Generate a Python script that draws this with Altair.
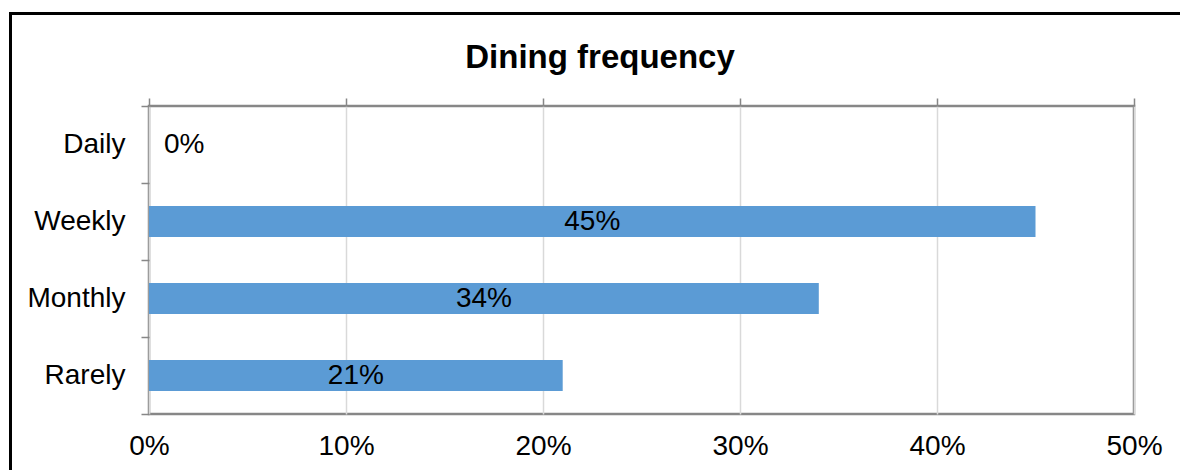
import altair as alt
import pandas as pd

categories = ["Daily", "Weekly", "Monthly", "Rarely"]
values = [0.0, 0.45, 0.34, 0.21]

df = pd.DataFrame({"cat": categories, "value": values})

FONT = "Liberation Sans"
GRAY = "#878787"
FS = 28

yenc = alt.Y(
    "cat:N",
    sort=categories,
    scale=alt.Scale(paddingInner=0, paddingOuter=0),
    axis=alt.Axis(
        title=None,
        domain=False,
        ticks=True,
        tickBand="extent",
        tickSize=8,
        tickColor=GRAY,
        tickWidth=1.5,
        labelFontSize=FS,
        labelColor="black",
        labelFont=FONT,
        labelPadding=16,
        grid=False,
    ),
)

xscale = alt.Scale(domain=[0, 0.5], nice=False, zero=True)

border = alt.Chart(pd.DataFrame({"k": [0]})).mark_rect(
    fillOpacity=0, stroke="black", strokeWidth=3
).encode(
    x=alt.value(-138.5), x2=alt.value(1100), y=alt.value(-92.5), y2=alt.value(420)
)

bars = alt.Chart(df).mark_bar(color="#5b9bd5", height=alt.RelativeBandSize(0.4)).encode(
    x=alt.X(
        "value:Q",
        scale=xscale,
        axis=alt.Axis(
            orient="bottom",
            title=None,
            format=".0%",
            values=[0, 0.1, 0.2, 0.3, 0.4, 0.5],
            domain=False,
            ticks=False,
            labelFontSize=FS,
            labelFont=FONT,
            labelColor="black",
            labelPadding=18,
            labelFlush=False,
            grid=True,
            gridColor="#d9d9d9",
            gridWidth=1.5,
        ),
    ),
    y=yenc,
)

labels = alt.Chart(df).transform_filter("datum.value > 0").transform_calculate(
    pos="datum.value / 2"
).mark_text(fontSize=FS, font=FONT, color="black", align="center", baseline="middle").encode(
    x=alt.X(
        "pos:Q",
        scale=xscale,
        axis=alt.Axis(
            orient="top",
            title=None,
            values=[0, 0.1, 0.2, 0.3, 0.4, 0.5],
            labels=False,
            domain=False,
            ticks=True,
            tickSize=8,
            tickColor=GRAY,
            tickWidth=1.5,
            grid=False,
        ),
    ),
    y=yenc,
    text=alt.Text("value:Q", format=".0%"),
)

zero_labels = alt.Chart(df).transform_filter("datum.value == 0").mark_text(
    fontSize=FS, font=FONT, color="black", align="left", baseline="middle", dx=15
).encode(
    x=alt.X("value:Q", scale=xscale, axis=None),
    y=yenc,
    text=alt.Text("value:Q", format=".0%"),
)

chart = alt.layer(border, bars, labels, zero_labels).resolve_axis(
    x="independent"
).properties(
    width=985,
    height=308,
    autosize=alt.AutoSizeParams(type="none"),
    padding={"left": 149, "top": 106, "right": 46, "bottom": 56},
    view=alt.ViewBackground(stroke=GRAY, strokeWidth=2.5),
    title=alt.TitleParams(
        "Dining frequency",
        fontSize=33,
        font=FONT,
        fontWeight="bold",
        color="black",
        anchor="middle",
        dx=-41.5,
        baseline="alphabetic",
        offset=-89,
    ),
).configure_view(
    stroke=GRAY, strokeWidth=2.5
).configure(background="white")

chart.save("out.html", embed_options={"renderer": "svg", "actions": False})
